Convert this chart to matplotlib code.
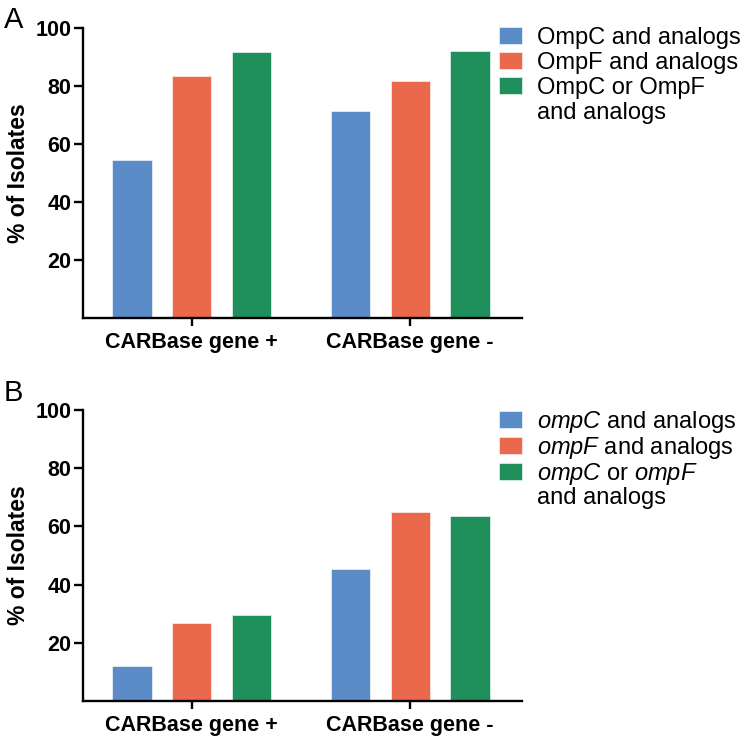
import numpy as np
import matplotlib
matplotlib.use("Agg")
import matplotlib.pyplot as plt
from matplotlib.patches import Patch

plt.rcParams['font.family'] = ['Liberation Sans', 'DejaVu Sans']
plt.rcParams['mathtext.fontset'] = 'custom'
plt.rcParams['mathtext.rm'] = 'Liberation Sans'
plt.rcParams['mathtext.it'] = 'Liberation Sans:italic'

# Data
groups = ["CARBase gene +", "CARBase gene -"]
protein_labels = ["OmpC and analogs", "OmpF and analogs", "OmpC or OmpF"]
gene_labels = [r"$\it{ompC}$ and analogs", r"$\it{ompF}$ and analogs",
               r"$\it{ompC}$ or $\it{ompF}$"]
wrap_label = "and analogs"   # second line of the third legend entry
protein_vals = [[54.4, 71.4],   # OmpC
                [83.3, 81.7],   # OmpF
                [91.7, 92.2]]   # OmpC or OmpF
gene_vals = [[12.2, 45.5],      # ompC
             [26.7, 64.8],      # ompF
             [29.5, 63.6]]      # ompC or ompF
colors = ["#5b8cc8", "#ea694d", "#1f8f5b"]
yticks = [20, 40, 60, 80, 100]

fig = plt.figure(figsize=(7.5, 7.38), dpi=100)
axA = fig.add_axes([0.110, 0.569, 0.5855, 0.393])
axB = fig.add_axes([0.110, 0.050, 0.5855, 0.3945])

x = np.arange(len(groups))
w = 0.18
offs = [-0.273, 0, 0.273]

panels = [(axA, protein_vals, protein_labels, "A", 1.028, 0.13),
          (axB, gene_vals, gene_labels, "B", 1.058, 0.0)]
for ax, vals, labels, letter, ly, lsp in panels:
    for i in range(3):
        ax.bar(x + offs[i], vals[i], width=w, color=colors[i], label=labels[i],
               edgecolor="#ffffff", linewidth=0.4)
    ax.set_xlim(-0.5, 1.51)
    ax.set_ylim(0, 100)
    ax.set_yticks(yticks)
    ax.set_xticks(x)
    ax.set_xticklabels(groups, fontsize=15.5, fontweight="bold")
    ax.tick_params(axis="y", labelsize=15.5, width=1.7, length=6.5, pad=1.5)
    ax.tick_params(axis="x", width=1.7, length=6, pad=4)
    for t in ax.get_yticklabels():
        t.set_fontweight("bold")
    ax.spines["top"].set_visible(False)
    ax.spines["right"].set_visible(False)
    ax.spines["left"].set_linewidth(1.7)
    ax.spines["bottom"].set_linewidth(1.7)
    ax.set_ylabel("% of Isolates", fontsize=16.5, fontweight="bold", labelpad=4)
    ax.text(-0.18, ly, letter, transform=ax.transAxes, fontsize=21,
            ha="left", va="center")
    handles, labs = ax.get_legend_handles_labels()
    handles.append(Patch(facecolor="none", edgecolor="none"))
    labs.append(wrap_label)
    ax.legend(handles, labs, loc="upper left", bbox_to_anchor=(0.948, 1.005),
              frameon=False, fontsize=17, handlelength=1.0, handleheight=0.75,
              handletextpad=0.6, labelspacing=lsp, borderaxespad=0.0,
              borderpad=0.0)

fig.savefig("out.png", dpi=100)
